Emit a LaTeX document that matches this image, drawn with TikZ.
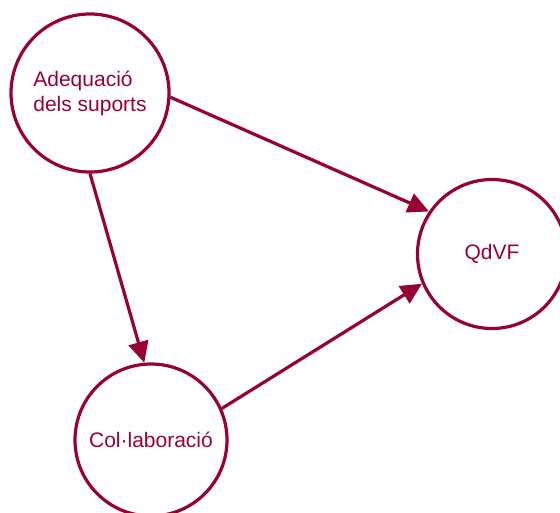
\documentclass[tikz,border=0pt]{standalone}
\usepackage{fontspec}
\setmainfont{Liberation Sans}
\usetikzlibrary{arrows.meta}
\definecolor{wine}{RGB}{153,0,51}
\begin{document}
\begin{tikzpicture}[x=1pt,y=-1pt,
  factor/.style={circle,draw=wine,line width=3.2pt,inner sep=0pt,
    text=wine,font=\fontsize{21}{25}\selectfont},
  link/.style={draw=wine,line width=3.2pt,
    -{Triangle[length=21pt,width=20pt]}}]
  \useasboundingbox (0,0) rectangle (560,512);
  \node[factor,minimum size=158pt,align=left] (sup) at (90,93)
    {Adequació\\dels suports};
  \node[factor,minimum size=149pt] (qdvf) at (492,254) {QdVF};
  \node[factor,minimum size=152pt] (col) at (151,440) {Col·laboració};
  \draw[link] (sup.-3) -- (qdvf.146);
  \draw[link] (sup.-90) -- (col.95);
  \draw[link] (col.24) -- (qdvf.-157);
\end{tikzpicture}
\end{document}
